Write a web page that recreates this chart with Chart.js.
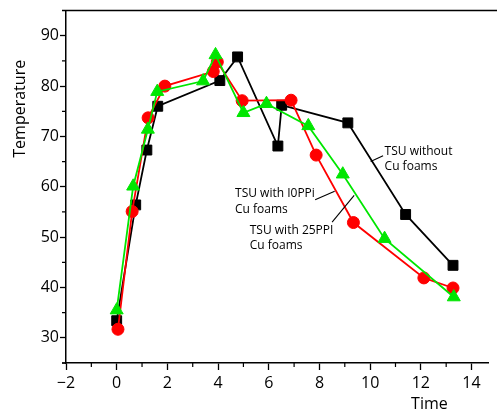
<!DOCTYPE html>
<html>
<head>
<meta charset="utf-8">
<script src="https://cdn.jsdelivr.net/npm/chart.js@4/dist/chart.umd.min.js"></script>
<style>
  html, body { margin: 0; padding: 0; background: #fff; }
  #wrap { width: 497px; height: 414px; }
</style>
</head>
<body>
<div id="wrap"><canvas id="c" width="497" height="414"></canvas></div>
<script>
// Temperature histories of the thermal storage unit (TSU)
const timeNoFoam = [0.0, 0.75, 1.19, 1.62, 4.07, 4.77, 6.36, 6.51, 9.12, 11.4, 13.27];
const tempNoFoam = [33.4, 56.4, 67.3, 76.0, 81.1, 85.8, 68.1, 76.2, 72.7, 54.5, 44.4];

const time10PPI = [0.05, 0.61, 1.24, 1.9, 3.81, 3.97, 4.95, 6.88, 7.87, 9.34, 12.12, 13.27];
const temp10PPI = [31.7, 55.1, 73.7, 80.0, 82.9, 84.8, 77.1, 77.2, 66.3, 52.9, 41.9, 39.9];

const time25PPI = [0.0, 0.65, 1.23, 1.6, 3.41, 3.9, 5.0, 5.91, 7.56, 8.92, 10.57, 13.3];
const temp25PPI = [35.5, 60.1, 71.4, 78.9, 81.0, 86.2, 74.7, 76.5, 72.1, 62.5, 49.7, 38.1];

const xTickValues = [-2, 0, 2, 4, 6, 8, 10, 12, 14];
const yTickValues = [30, 40, 50, 60, 70, 80, 90];

// Callout labels: text lines, anchor of first line (data units), leader line ends (data units)
const noteText = [
  ['TSU without', 'Cu foams'],
  ['TSU with I0PPi', 'Cu foams'],
  ['TSU with 25PPI', 'Cu foams']
];
const noteAnchor = [[10.57, 67.0], [4.67, 58.6], [5.25, 51.4]];
const noteLeader = [
  [[10.02, 65.05], [10.51, 66.17]],
  [[7.83, 57.42], [8.60, 59.13]],
  [[8.50, 53.0], [9.37, 58.28]]
];

const FONT = "'Open Sans', 'Noto Sans', sans-serif";

function pairs(xs, ys) { return xs.map((x, i) => ({ x: x, y: ys[i] })); }

const frame = {
  id: 'frame',
  afterDraw(chart) {
    const ctx = chart.ctx;
    const a = chart.chartArea;
    const xs = chart.scales.x, ys = chart.scales.y;
    ctx.save();
    ctx.strokeStyle = '#000';
    ctx.lineWidth = 1.5;
    // top rule and small overhang of the x axis
    ctx.beginPath();
    ctx.moveTo(a.left - 4, a.top); ctx.lineTo(chart.width, a.top);
    ctx.moveTo(a.left - 4, a.bottom); ctx.lineTo(a.left, a.bottom);
    ctx.stroke();
    // minor ticks
    ctx.lineWidth = 1.2;
    ctx.beginPath();
    for (let i = 0; i < xTickValues.length; i++) {
      const v = xTickValues[i] + 1;
      if (v > xs.max) break;
      const px = xs.getPixelForValue(v);
      ctx.moveTo(px, a.bottom); ctx.lineTo(px, a.bottom + 4);
    }
    for (let i = 0; i < yTickValues.length; i++) {
      const v = yTickValues[i] - 5;
      const py = ys.getPixelForValue(v);
      ctx.moveTo(a.left, py); ctx.lineTo(a.left - 4, py);
    }
    ctx.stroke();

    // axis titles
    ctx.fillStyle = '#000';
    ctx.font = '16px ' + FONT;
    ctx.textAlign = 'center';
    ctx.textBaseline = 'middle';
    ctx.fillText('Time', xs.getPixelForValue(12.34), 404);
    ctx.save();
    ctx.translate(20, ys.getPixelForValue(75.5));
    ctx.rotate(-Math.PI / 2);
    ctx.fillText('Temperature', 0, 0);
    ctx.restore();

    // callouts
    ctx.font = '12px ' + FONT;
    ctx.textAlign = 'left';
    ctx.lineWidth = 1.1;
    noteText.forEach((lines, k) => {
      const x0 = xs.getPixelForValue(noteAnchor[k][0]);
      const y0 = ys.getPixelForValue(noteAnchor[k][1]);
      lines.forEach((t, j) => ctx.fillText(t, x0, y0 + j * 15.5));
      const p = noteLeader[k];
      ctx.beginPath();
      ctx.moveTo(xs.getPixelForValue(p[0][0]), ys.getPixelForValue(p[0][1]));
      ctx.lineTo(xs.getPixelForValue(p[1][0]), ys.getPixelForValue(p[1][1]));
      ctx.stroke();
    });
    ctx.restore();
  }
};

new Chart(document.getElementById('c'), {
  type: 'scatter',
  data: {
    datasets: [
      {
        label: 'TSU with 25PPI Cu foams',
        data: pairs(time25PPI, temp25PPI),
        showLine: true,
        borderColor: '#00e600',
        backgroundColor: '#00e600',
        borderWidth: 1.8,
        pointStyle: 'triangle',
        pointRadius: 7.5,
        pointBorderWidth: 1
      },
      {
        label: 'TSU with 10PPI Cu foams',
        data: pairs(time10PPI, temp10PPI),
        showLine: true,
        borderColor: '#ff0000',
        backgroundColor: '#ff0000',
        borderWidth: 1.8,
        pointStyle: 'circle',
        pointRadius: 6,
        pointBorderWidth: 1
      },
      {
        label: 'TSU without Cu foams',
        data: pairs(timeNoFoam, tempNoFoam),
        showLine: true,
        borderColor: '#000000',
        backgroundColor: '#000000',
        borderWidth: 1.8,
        pointStyle: 'rect',
        pointRadius: 7,
        pointBorderWidth: 1
      }
    ]
  },
  options: {
    responsive: false,
    animation: false,
    devicePixelRatio: 1,
    layout: { padding: { top: 7, right: 0, left: 0, bottom: 0 } },
    plugins: { legend: { display: false }, tooltip: { enabled: false } },
    scales: {
      x: {
        type: 'linear',
        min: -2,
        max: 14.67,
        afterBuildTicks: s => { s.ticks = xTickValues.map(v => ({ value: v })); },
        afterFit: s => { s.height = 51; },
        ticks: {
          autoSkip: false,
          maxRotation: 0,
          padding: 4,
          color: '#000',
          font: { family: FONT, size: 16 },
          callback: v => (v < 0 ? '\u2212' + Math.abs(v) : String(v))
        },
        grid: { drawOnChartArea: false, drawTicks: true, tickLength: 7, tickColor: '#000', tickWidth: 1.3 },
        border: { display: true, color: '#000', width: 1.5 }
      },
      y: {
        type: 'linear',
        min: 25,
        max: 95,
        afterBuildTicks: s => { s.ticks = yTickValues.map(v => ({ value: v })); },
        afterFit: s => { s.width = 66; },
        ticks: {
          autoSkip: false,
          padding: 1,
          color: '#000',
          font: { family: FONT, size: 16 }
        },
        grid: { drawOnChartArea: false, drawTicks: true, tickLength: 6, tickColor: '#000', tickWidth: 1.3 },
        border: { display: true, color: '#000', width: 1.5 }
      }
    }
  },
  plugins: [frame]
});
</script>
</body>
</html>
